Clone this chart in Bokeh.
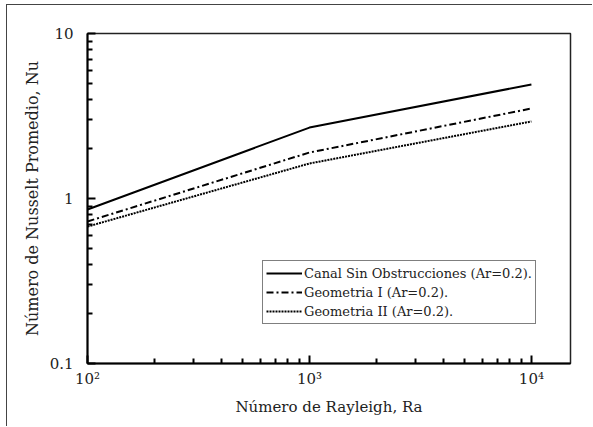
from bokeh.plotting import figure
from bokeh.models import FixedTicker, Legend, LegendItem, Range1d
from bokeh.embed import file_html
from bokeh.resources import INLINE

ra = [100, 1000, 10000]
nu_canal = [0.858, 2.69, 4.91]
nu_geo1 = [0.726, 1.90, 3.51]
nu_geo2 = [0.676, 1.63, 2.93]
labels = ["Canal Sin Obstrucciones (Ar=0.2).", "Geometria I (Ar=0.2).", "Geometria II (Ar=0.2)."]
x_major = [100, 1000, 10000]
x_tick_labels = {100: "10²", 1000: "10³", 10000: "10⁴"}
y_major = [0.1, 1, 10]
y_tick_labels = {0.1: "0.1", 1: "1", 10: "10"}
mantissas = [2, 3, 4, 5, 6, 7, 8, 9]

FONT = "DejaVu Serif"

x_minor = [m * d for d in (100, 1000) for m in mantissas]
y_minor = [round(m * d, 3) for d in (0.1, 1) for m in mantissas]

p = figure(width=586, height=422, x_axis_type="log", y_axis_type="log",
           x_range=Range1d(100, 15000), y_range=Range1d(0.1, 10),
           output_backend="svg", toolbar_location=None,
           min_border_left=80, min_border_top=28, min_border_right=23, min_border_bottom=64)
p.styles = {"border-left": "1.5px solid #444", "border-top": "1.5px solid #444",
            "margin-left": "6px", "margin-top": "4px"}

p.grid.visible = False
p.outline_line_color = "#222"
p.outline_line_width = 1.5

for ax in (p.xaxis[0], p.yaxis[0]):
    ax.axis_line_width = 2
    ax.axis_line_color = "black"
    ax.major_tick_in = 8
    ax.major_tick_out = 0
    ax.minor_tick_in = 5
    ax.minor_tick_out = 0
    ax.major_tick_line_width = 2
    ax.minor_tick_line_width = 2
    ax.major_label_text_font = FONT
    ax.major_label_text_font_size = "15px"
    ax.major_label_text_color = "#222"
    ax.axis_label_text_font = FONT
    ax.axis_label_text_font_style = "normal"
    ax.axis_label_text_color = "#222"

p.xaxis.axis_label_text_font_size = "15px"
p.yaxis.axis_label_text_font_size = "16px"
p.xaxis.ticker = FixedTicker(ticks=x_major, minor_ticks=x_minor)
p.yaxis.ticker = FixedTicker(ticks=y_major, minor_ticks=y_minor)
p.xaxis.major_label_overrides = x_tick_labels
p.yaxis.major_label_overrides = y_tick_labels
p.xaxis.axis_label = "Número de Rayleigh, Ra"
p.yaxis.axis_label = "Número de Nusselt Promedio, Nu"
p.xaxis.major_label_standoff = 6
p.yaxis.major_label_standoff = 14
p.xaxis.axis_label_standoff = 7

r1 = p.line(ra, nu_canal, line_color="black", line_width=2)
r2 = p.line(ra, nu_geo1, line_color="black", line_width=2, line_dash="7 3 2 3")
r3 = p.line(ra, nu_geo2, line_color="black", line_width=2, line_dash="2 1")

legend = Legend(items=[LegendItem(label=labels[0], renderers=[r1]),
                       LegendItem(label=labels[1], renderers=[r2]),
                       LegendItem(label=labels[2], renderers=[r3])],
                location=(175, 39))
legend.label_text_font = FONT
legend.label_text_font_size = "13px"
legend.label_text_color = "#222"
legend.glyph_width = 36
legend.glyph_height = 18
legend.label_height = 18
legend.label_standoff = 2
legend.spacing = 1
legend.padding = 3
legend.margin = 0
legend.border_line_color = "black"
legend.border_line_width = 1.2
legend.background_fill_alpha = 1
p.add_layout(legend, "center")

open("out.html", "w").write(file_html(p, INLINE))
